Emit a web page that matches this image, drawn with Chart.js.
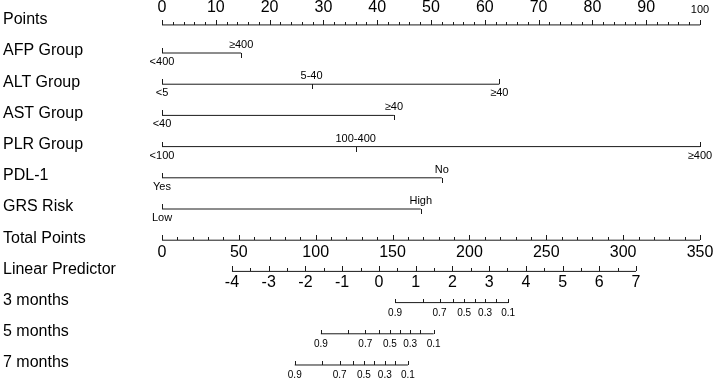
<!DOCTYPE html>
<html>
<head>
<meta charset="utf-8">
<script src="https://cdn.jsdelivr.net/npm/chart.js@4.4.1/dist/chart.umd.min.js"></script>
<style>
    html, body { margin: 0; padding: 0; background: #fff; }
    #wrap { width: 715px; height: 381px; }
</style>
</head>
<body>
<div id="wrap"><canvas id="nomogram"></canvas></div>
<script>
// row names, top to bottom
const rowLabels = ['Points', 'AFP Group', 'ALT Group', 'AST Group', 'PLR Group', 'PDL-1', 'GRS Risk',
    'Total Points', 'Linear Predictor', '3 months', '5 months', '7 months'];

// Points scale
const pointsTicks = [0, 10, 20, 30, 40, 50, 60, 70, 80, 90, 100];

// predictor levels and the points they score
const afpLevels = ['<400', '≥400'];
const afpPoints = [0, 14.7];
const altLevels = ['<5', '5-40', '≥40'];
const altPoints = [0, 27.8, 62.7];
const astLevels = ['<40', '≥40'];
const astPoints = [0, 43.1];
const plrLevels = ['<100', '100-400', '≥400'];
const plrPoints = [0, 36.0, 100];
const pdlLevels = ['Yes', 'No'];
const pdlPoints = [0, 52.0];
const grsLevels = ['Low', 'High'];
const grsPoints = [0, 48.1];

// Total points scale
const totalPointsTicks = [0, 50, 100, 150, 200, 250, 300, 350];

// Linear predictor scale, and the total points at its two ends
const lpTicks = [-4, -3, -2, -1, 0, 1, 2, 3, 4, 5, 6, 7];
const lpEndsTotal = [45.5, 308.4];

// survival probabilities, placed on the linear predictor
const survProbs = [0.9, 0.8, 0.7, 0.6, 0.5, 0.4, 0.3, 0.2, 0.1];
const surv3m = [0.44, 1.19, 1.65, 2.01, 2.32, 2.61, 2.89, 3.18, 3.52];
const surv5m = [-1.58, -0.84, -0.37, -0.01, 0.30, 0.57, 0.85, 1.13, 1.49];
const surv7m = [-2.29, -1.55, -1.07, -0.71, -0.41, -0.13, 0.16, 0.44, 0.79];

const FONT = '"Liberation Sans", Arial, Helvetica, sans-serif';
const LINE = '#1a1a1a';

const totalMax = totalPointsTicks[totalPointsTicks.length - 1];
const totalToPts = t => t * 100 / totalMax;
const lpToPts = lp => {
    const lo = lpTicks[0], hi = lpTicks[lpTicks.length - 1];
    const t = lpEndsTotal[0] + (lp - lo) * (lpEndsTotal[1] - lpEndsTotal[0]) / (hi - lo);
    return totalToPts(t);
};

const variables = [
    { row: 1, levels: afpLevels, points: afpPoints },
    { row: 2, levels: altLevels, points: altPoints },
    { row: 3, levels: astLevels, points: astPoints },
    { row: 4, levels: plrLevels, points: plrPoints },
    { row: 5, levels: pdlLevels, points: pdlPoints },
    { row: 6, levels: grsLevels, points: grsPoints }
];
const survRows = [
    { row: 9, lp: surv3m },
    { row: 10, lp: surv5m },
    { row: 11, lp: surv7m }
];
const pointsAxisRow = 0.1;  // the Points line sits a little lower than its label

function seg(x0, x1, row) {
    return {
        data: [{ x: x0, y: row }, { x: x1, y: row }],
        showLine: true,
        borderColor: LINE,
        borderWidth: 1,
        pointRadius: 0
    };
}

const datasets = [];
datasets.push(seg(pointsTicks[0], pointsTicks[pointsTicks.length - 1], pointsAxisRow));
variables.forEach(v => datasets.push(seg(Math.min(...v.points), Math.max(...v.points), v.row)));
datasets.push(seg(totalToPts(0), totalToPts(totalMax), 7));
datasets.push(seg(lpToPts(lpTicks[0]), lpToPts(lpTicks[lpTicks.length - 1]), 8));
survRows.forEach(s => datasets.push(seg(lpToPts(s.lp[0]), lpToPts(s.lp[s.lp.length - 1]), s.row)));

function tick(ctx, px, y0, y1) {
    const xx = Math.round(px) + 0.5;
    ctx.beginPath();
    ctx.moveTo(xx, y0);
    ctx.lineTo(xx, y1);
    ctx.stroke();
}

// ticks and texts, placed through the chart scales
const nomogramMarks = {
    id: 'nomogramMarks',
    afterDatasetsDraw(chart) {
        const { ctx } = chart;
        const x = chart.scales.x, y = chart.scales.y;
        ctx.save();
        ctx.strokeStyle = LINE;
        ctx.lineWidth = 1;
        ctx.fillStyle = '#000';

        // row labels
        ctx.font = `16px ${FONT}`;
        ctx.textAlign = 'left';
        ctx.textBaseline = 'middle';
        rowLabels.forEach((t, i) => ctx.fillText(t, 3, y.getPixelForValue(i) - 2));

        ctx.textAlign = 'center';

        // Points axis
        const py = Math.round(y.getPixelForValue(pointsAxisRow));
        for (let v = 0; v <= 100; v += 2) {
            tick(ctx, x.getPixelForValue(v), py - (v % 10 === 0 ? 5 : 3), py);
        }
        pointsTicks.forEach(v => {
            ctx.font = v === 100 ? `11px ${FONT}` : `16px ${FONT}`;
            ctx.fillText(String(v), x.getPixelForValue(v), py - (v === 100 ? 15 : 17));
        });

        // predictors
        ctx.font = `11px ${FONT}`;
        variables.forEach(v => {
            const vy = Math.round(y.getPixelForValue(v.row));
            v.points.forEach((p, i) => {
                const px = x.getPixelForValue(p);
                if (i % 2 === 0) {
                    tick(ctx, px, vy - 5, vy);
                    ctx.fillText(v.levels[i], px, vy + 9);
                } else {
                    tick(ctx, px, vy, vy + 5);
                    ctx.fillText(v.levels[i], px, vy - 8);
                }
            });
        });

        // Total Points axis
        const ty = Math.round(y.getPixelForValue(7));
        for (let v = 0; v <= totalMax; v += 10) {
            tick(ctx, x.getPixelForValue(totalToPts(v)), ty - (v % 50 === 0 ? 5 : 3), ty);
        }
        ctx.font = `16px ${FONT}`;
        totalPointsTicks.forEach(v => ctx.fillText(String(v), x.getPixelForValue(totalToPts(v)), ty + 13));

        // Linear Predictor axis
        const ly = Math.round(y.getPixelForValue(8));
        for (let v = lpTicks[0]; v <= lpTicks[lpTicks.length - 1]; v += 0.5) {
            tick(ctx, x.getPixelForValue(lpToPts(v)), ly - (Number.isInteger(v) ? 5 : 3), ly);
        }
        lpTicks.forEach(v => ctx.fillText(String(v), x.getPixelForValue(lpToPts(v)), ly + 12));

        // survival axes
        ctx.font = `10px ${FONT}`;
        survRows.forEach(s => {
            const sy = Math.round(y.getPixelForValue(s.row));
            s.lp.forEach((lp, i) => {
                const px = x.getPixelForValue(lpToPts(lp));
                tick(ctx, px, sy - 4, sy);
                if (i % 2 === 0) ctx.fillText(String(survProbs[i]), px, sy + 10);
            });
        });

        ctx.restore();
    }
};

new Chart(document.getElementById('nomogram'), {
    type: 'scatter',
    data: { datasets },
    options: {
        responsive: true,
        maintainAspectRatio: false,
        animation: false,
        layout: { padding: { left: 162, right: 15, top: 0, bottom: 0 } },
        scales: {
            x: { type: 'linear', min: 0, max: 100, display: false },
            y: { type: 'linear', min: -0.699, max: 11.513, reverse: true, display: false }
        },
        plugins: {
            legend: { display: false },
            tooltip: { enabled: false }
        }
    },
    plugins: [nomogramMarks]
});
</script>
</body>
</html>
